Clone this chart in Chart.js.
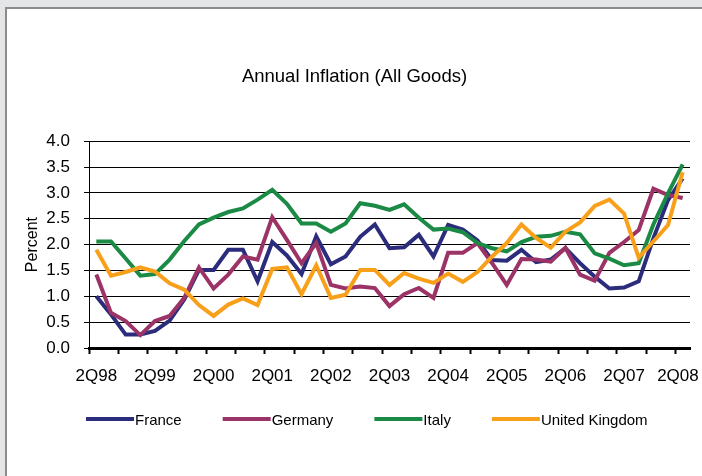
<!DOCTYPE html>
<html>
<head>
<meta charset="utf-8">
<title>Annual Inflation (All Goods)</title>
<script src="https://cdn.jsdelivr.net/npm/chart.js@4/dist/chart.umd.min.js"></script>
<style>
  html, body { margin: 0; padding: 0; }
  body { width: 702px; height: 476px; background: #e4e5e7; position: relative; overflow: hidden; }
  #panel { position: absolute; left: 5px; top: 7px; width: 720px; height: 500px; background: #fff; border: 2px solid #8c8c8c; }
  #wrap { position: absolute; left: 0; top: 0; width: 702px; height: 476px; }
</style>
</head>
<body>
<div id="panel"></div>
<div id="wrap"><canvas id="inflationChart"></canvas></div>
<script>
// Quarters, 2Q98 .. 2Q08
const quarters = [
  '2Q98', '3Q98', '4Q98',
  '1Q99', '2Q99', '3Q99', '4Q99',
  '1Q00', '2Q00', '3Q00', '4Q00',
  '1Q01', '2Q01', '3Q01', '4Q01',
  '1Q02', '2Q02', '3Q02', '4Q02',
  '1Q03', '2Q03', '3Q03', '4Q03',
  '1Q04', '2Q04', '3Q04', '4Q04',
  '1Q05', '2Q05', '3Q05', '4Q05',
  '1Q06', '2Q06', '3Q06', '4Q06',
  '1Q07', '2Q07', '3Q07', '4Q07',
  '1Q08', '2Q08'
];

// Annual inflation, percent
const france = [
  1.00, 0.65, 0.26,
  0.26, 0.33, 0.53, 0.94,
  1.51, 1.51, 1.90, 1.90,
  1.29, 2.05, 1.79, 1.43,
  2.16, 1.62, 1.77, 2.15,
  2.39, 1.93, 1.95, 2.19,
  1.77, 2.38, 2.29, 2.08,
  1.70, 1.69, 1.90, 1.66,
  1.71, 1.93, 1.64, 1.38,
  1.15, 1.17, 1.29, 2.12,
  2.86, 3.28
];
const germany = [
  1.42, 0.68, 0.52,
  0.25, 0.52, 0.62, 0.97,
  1.56, 1.15, 1.42, 1.77,
  1.71, 2.53, 2.09, 1.64,
  2.03, 1.22, 1.15, 1.19,
  1.16, 0.81, 1.04, 1.16,
  0.97, 1.84, 1.84, 2.03,
  1.64, 1.22, 1.72, 1.71,
  1.67, 1.94, 1.42, 1.30,
  1.84, 2.05, 2.28, 3.08,
  2.96, 2.90
];
const italy = [
  2.06, 2.06, 1.73,
  1.40, 1.43, 1.71, 2.07,
  2.39, 2.52, 2.63, 2.70,
  2.87, 3.06, 2.79, 2.41,
  2.41, 2.25, 2.41, 2.80,
  2.75, 2.67, 2.78, 2.52,
  2.29, 2.31, 2.24, 2.03,
  1.93, 1.87, 2.05, 2.15,
  2.17, 2.25, 2.20, 1.83,
  1.73, 1.60, 1.64, 2.39,
  2.99, 3.55
];
const unitedKingdom = [
  1.90, 1.40, 1.47,
  1.56, 1.48, 1.25, 1.13,
  0.83, 0.62, 0.84, 0.96,
  0.83, 1.53, 1.56, 1.04,
  1.60, 0.97, 1.03, 1.51,
  1.51, 1.22, 1.45, 1.34,
  1.26, 1.44, 1.28, 1.47,
  1.77, 2.03, 2.39, 2.13,
  1.94, 2.25, 2.43, 2.75,
  2.87, 2.60, 1.75, 2.06,
  2.38, 3.40
];

const seriesNames = ['France', 'Germany', 'Italy', 'United Kingdom'];
const seriesColors = ['#2b2c7c', '#9b3366', '#1a8a45', '#f9a01b'];
const seriesValues = [france, germany, italy, unitedKingdom];

const FONT = '"Liberation Sans", Arial, Helvetica, sans-serif';

// later series sit on top of earlier ones
const datasets = seriesValues.map((values, i) => ({
  label: seriesNames[i],
  data: values,
  borderColor: seriesColors[i],
  backgroundColor: seriesColors[i],
  borderWidth: 4,
  pointRadius: 0,
  pointHoverRadius: 0,
  tension: 0,
  fill: false,
  order: seriesValues.length - i,
}));

// Legend in one row under the axis: line sample, name right after it
const lineLegend = {
  id: 'lineLegend',
  afterDraw(chart, args, opts) {
    const { ctx, chartArea } = chart;
    ctx.save();
    ctx.font = opts.font;
    ctx.textBaseline = 'middle';
    let x = chartArea.left + opts.shift;
    const y = chartArea.bottom + opts.offsetY;
    chart.data.datasets.forEach((ds) => {
      ctx.fillStyle = ds.borderColor;
      ctx.fillRect(x, y - 2, opts.sampleWidth, 4);
      x += opts.sampleWidth + opts.textGap;
      ctx.fillStyle = '#000';
      ctx.fillText(ds.label, x, y + 2);
      x += ctx.measureText(ds.label).width + opts.itemGap;
    });
    ctx.restore();
  },
};

const ctx = document.getElementById('inflationChart').getContext('2d');
new Chart(ctx, {
  type: 'line',
  data: {
    labels: quarters,
    datasets: datasets,
  },
  plugins: [lineLegend],
  options: {
    responsive: true,
    maintainAspectRatio: false,
    animation: false,
    layout: {
      autoPadding: false,
      padding: { left: 19, right: 12, top: 0, bottom: 85 },
    },
    plugins: {
      title: {
        display: true,
        text: 'Annual Inflation (All Goods)',
        color: '#000',
        font: { family: FONT, size: 18.5, weight: 'normal' },
        padding: { top: 66, bottom: 53 },
      },
      legend: { display: false },
      tooltip: { enabled: false },
      lineLegend: {
        font: '15px ' + FONT,
        shift: -3,
        offsetY: 71,
        sampleWidth: 48,
        textGap: 1,
        itemGap: 41,
      },
    },
    scales: {
      x: {
        offset: true,
        grid: {
          offset: true,
          drawOnChartArea: false,
          drawTicks: true,
          tickLength: 6,
          tickWidth: 2,
          // a tick mark every second quarter
          tickColor: (c) => (c.index !== undefined && c.index % 2 === 0 ? '#000' : 'rgba(0,0,0,0)'),
        },
        border: { display: true, color: '#000', width: 3 },
        ticks: {
          autoSkip: false,
          maxRotation: 0,
          minRotation: 0,
          padding: 12,
          color: '#000',
          font: { family: FONT, size: 17 },
          callback: (value, index) => {
            if (index % 4 !== 0) return '';
            // trailing spaces pull the last label back inside the canvas
            return index === quarters.length - 1 ? quarters[index] + '  ' : quarters[index];
          },
        },
        afterFit: (scale) => {
          scale.height = 43;
          // let the end labels hang past the plot area
          scale.paddingLeft = 0;
          scale.paddingRight = 0;
        },
      },
      y: {
        min: 0,
        max: 4,
        grid: {
          color: '#000',
          lineWidth: 1,
          tickLength: 5,
          tickColor: '#000',
        },
        border: { display: true, color: '#000', width: 1 },
        ticks: {
          stepSize: 0.5,
          padding: 14,
          color: '#000',
          font: { family: FONT, size: 17 },
          callback: (v) => v.toFixed(1),
        },
        title: {
          display: true,
          text: 'Percent',
          color: '#000',
          font: { family: FONT, size: 16 },
          padding: { top: 4, bottom: 4 },
        },
        afterFit: (scale) => { scale.width = 70; },
      },
    },
  },
});
</script>
</body>
</html>
